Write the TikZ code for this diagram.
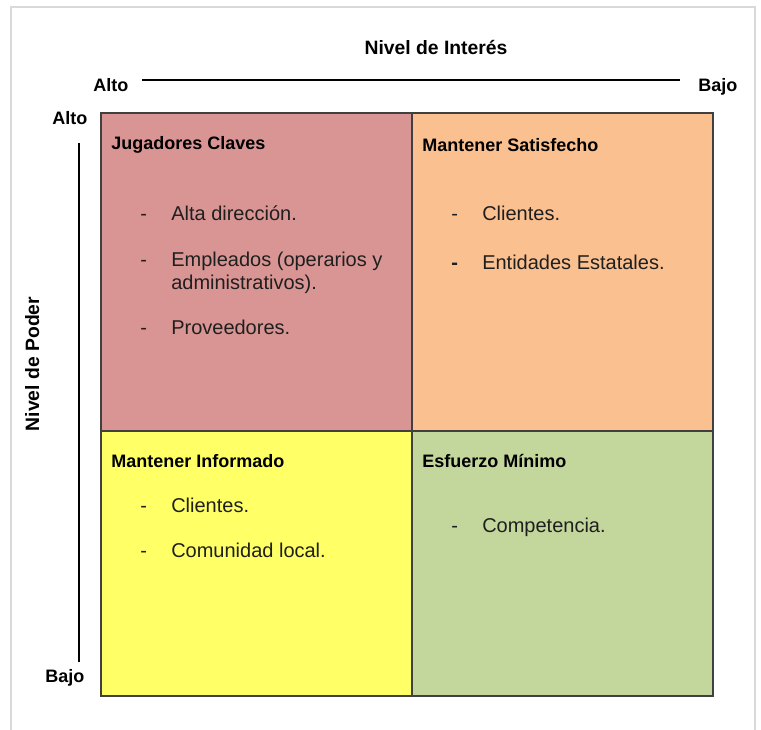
\documentclass[tikz,border=0pt]{standalone}
\usepackage{fontspec}
\setmainfont{Liberation Sans}
\definecolor{qrose}{HTML}{D99594}
\definecolor{qorange}{HTML}{FAC090}
\definecolor{qyellow}{HTML}{FFFF66}
\definecolor{qgreen}{HTML}{C3D69B}
\definecolor{qborder}{HTML}{404040}
\definecolor{qframe}{HTML}{D9D9D9}
\definecolor{qtext}{HTML}{1F1F1F}
\begin{document}
\begin{tikzpicture}[x=0.75pt,y=-0.75pt,
  quad/.style={draw=qborder,line width=1.1pt},
  axisline/.style={draw=black,line width=1.6pt},
  axistitle/.style={font=\fontsize{14.5}{17}\selectfont\bfseries,text=black,inner sep=0pt},
  axislabel/.style={font=\fontsize{13.5}{16}\selectfont\bfseries,text=black,inner sep=0pt,anchor=base west},
  heading/.style={font=\fontsize{13.5}{16}\selectfont\bfseries,text=black,inner sep=0pt,anchor=base west},
  item/.style={font=\fontsize{15}{18}\selectfont,text=qtext,inner sep=0pt,anchor=base west},
  dashmark/.style={font=\fontsize{15}{18}\selectfont,text=qtext,inner sep=0pt,anchor=base west}]
\useasboundingbox (0,0) rectangle (761,730);
% outer frame
\draw[qframe,line width=0.9pt] (11,730) -- (11,7) -- (755,7) -- (755,730);
% quadrants
\draw[quad,fill=qrose] (101,113) rectangle (412,431);
\draw[quad,fill=qorange] (412,113) rectangle (713,431);
\draw[quad,fill=qyellow] (101,431) rectangle (412,696);
\draw[quad,fill=qgreen] (412,431) rectangle (713,696);
% axes
\coordinate (hA) at (142,80);
\coordinate (hB) at (680,80);
\coordinate (vA) at (79,143);
\coordinate (vB) at (79,662);
\draw[axisline] (hA) -- (hB);
\draw[axisline] (vA) -- (vB);
\node[axistitle,anchor=base] (tint) at (436,55) {Nivel de Interés};
\node[axistitle,anchor=base,rotate=90] (tpod) at (39,364) {Nivel de Poder};
\node[axislabel] (ialto) at (93,92) {Alto};
\node[axislabel] (ibajo) at (698,92) {Bajo};
\node[axislabel] (palto) at (52,125) {Alto};
\node[axislabel] (pbajo) at (45,683) {Bajo};
% headings
\node[heading] (h1) at (111,150) {Jugadores Claves};
\node[heading] (h2) at (422,152) {Mantener Satisfecho};
\node[heading] (h3) at (111,468) {Mantener Informado};
\node[heading] (h4) at (422,468) {Esfuerzo Mínimo};
% top-left items
\node[dashmark] (d11) at (140,221) {-};
\node[item] (t11) at (171,221) {Alta dirección.};
\node[dashmark] (d12) at (140,267) {-};
\node[item] (t12) at (171,267) {Empleados (operarios y};
\node[item] (t12b) at (171,290) {administrativos).};
\node[dashmark] (d13) at (140,335) {-};
\node[item] (t13) at (171,335) {Proveedores.};
% top-right items
\node[dashmark] (d21) at (451,221) {-};
\node[item] (t21) at (482,221) {Clientes.};
\node[dashmark,font=\fontsize{15}{18}\selectfont\bfseries] (d22) at (451,270) {-};
\node[item] (t22) at (482,270) {Entidades Estatales.};
% bottom-left items
\node[dashmark] (d31) at (140,513) {-};
\node[item] (t31) at (171,513) {Clientes.};
\node[dashmark] (d32) at (140,558) {-};
\node[item] (t32) at (171,558) {Comunidad local.};
% bottom-right items
\node[dashmark] (d41) at (451,533) {-};
\node[item] (t41) at (482,533) {Competencia.};
\end{tikzpicture}
\end{document}
